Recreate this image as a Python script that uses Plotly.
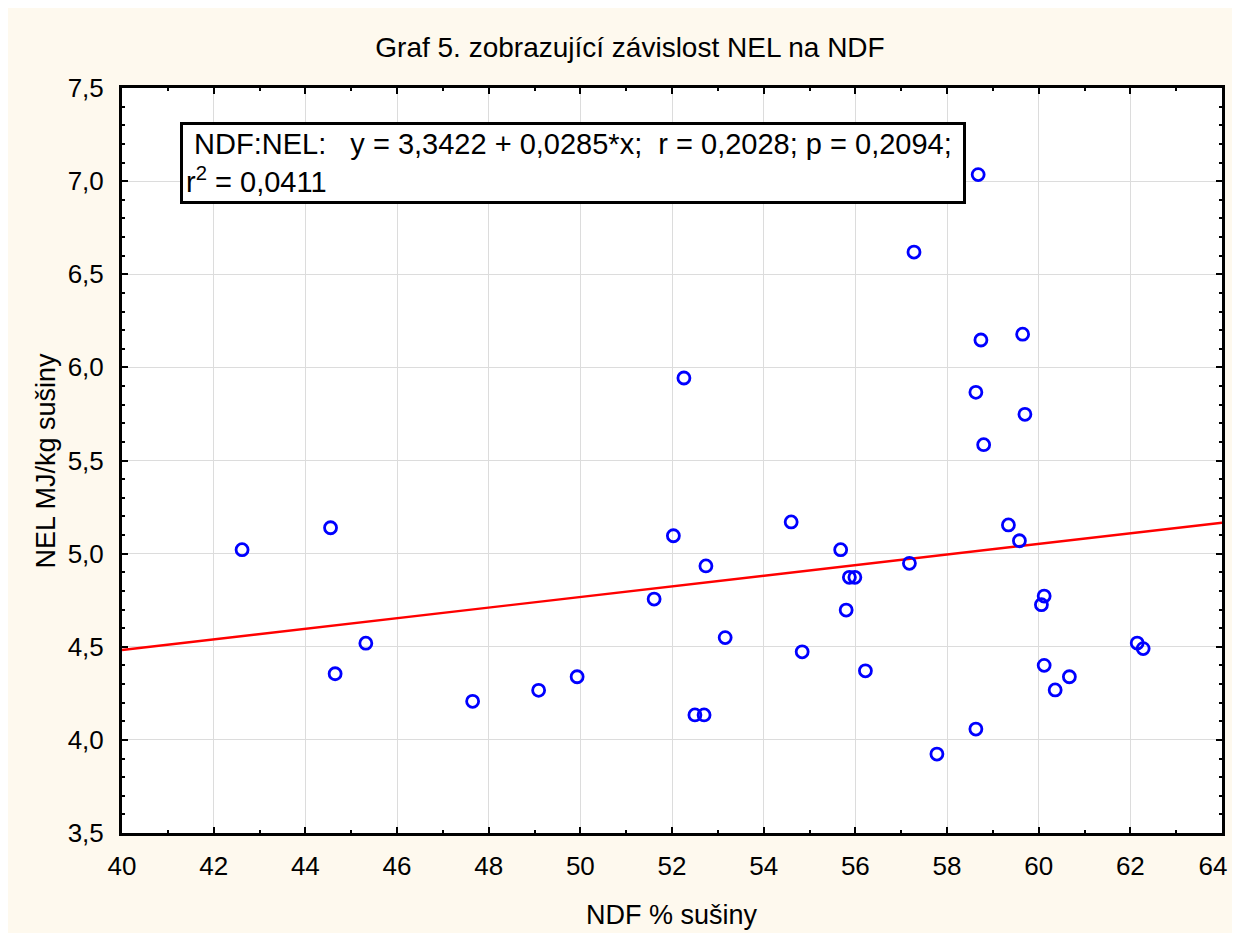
import plotly.graph_objects as go

# Data
ndf = [42.62, 44.55, 44.65, 45.32, 47.65, 49.09, 49.93, 51.61, 52.03, 52.26,
       52.50, 52.70, 52.74, 53.16, 54.60, 54.84, 55.68, 55.80, 55.87, 55.99,
       56.22, 57.18, 57.28, 57.78, 58.63, 58.63, 58.68, 58.74, 58.80, 59.34,
       59.58, 59.65, 59.70, 60.06, 60.12, 60.12, 60.36, 60.67, 62.15, 62.28]
nel = [5.021, 5.139, 4.355, 4.519, 4.207, 4.266, 4.339, 4.756, 5.096, 5.943,
       4.134, 4.134, 4.934, 4.549, 5.170, 4.473, 5.021, 4.697, 4.873, 4.873,
       4.371, 4.948, 6.619, 3.924, 5.866, 4.058, 7.035, 6.147, 5.585, 5.154,
       5.069, 6.178, 5.748, 4.726, 4.772, 4.400, 4.268, 4.339, 4.520, 4.490]

intercept = 3.3422
slope = 0.0285
x_range = [40, 64]
y_range = [3.5, 7.5]
x_ticks = list(range(40, 65, 2))
x_tick_labels = [str(v) for v in x_ticks]
x_tick_labels[-1] = x_tick_labels[-1] + "\u2002\u2009"  # keep last label inside the page
y_ticks = [3.5, 4.0, 4.5, 5.0, 5.5, 6.0, 6.5, 7.0, 7.5]

title_text = "Graf 5. zobrazující závislost NEL na NDF"
x_title = "NDF % sušiny"
y_title = "NEL MJ/kg sušiny"
stats_text = (" NDF:NEL:   y = 3,3422 + 0,0285*x;  r = 0,2028; p = 0,2094;\u00a0<br>"
              "r<sup>2</sup> = 0,0411")

FONT = "Liberation Sans, Arial, sans-serif"
CREAM = "#FEF9EE"

fig = go.Figure()
fig.add_trace(go.Scatter(
    x=x_range, y=[intercept + slope * v for v in x_range],
    mode="lines", line=dict(color="#FF0000", width=2.4),
    showlegend=False, hoverinfo="skip"))
fig.add_trace(go.Scatter(
    x=ndf, y=nel, mode="markers",
    marker=dict(symbol="circle-open", size=12, color="#0000FF",
                line=dict(width=2.8, color="#0000FF")),
    showlegend=False))

W, H = 1232, 925
L, R, T, B = 114, 18, 80, 100

axis_common = dict(
    showline=True, linecolor="black", linewidth=3, mirror="allticks",
    ticks="inside", ticklen=6, tickwidth=2, tickcolor="black",
    showgrid=True, gridcolor="#DCDCDC", gridwidth=1.3, zeroline=False,
    tickfont=dict(family=FONT, size=26, color="black"),
    ticklabeloverflow="allow", automargin=False,
)

fig.update_xaxes(range=x_range, tickvals=x_ticks, ticktext=x_tick_labels,
                 ticklabelstandoff=8, **axis_common,
                 minor=dict(ticks="inside", ticklen=3, tickwidth=2, dtick=1,
                            tickcolor="black", showgrid=False))
fig.update_yaxes(range=y_range, tickvals=y_ticks, tickformat=".1f", ticklabelstandoff=10,
                 **axis_common,
                 minor=dict(ticks="inside", ticklen=3, tickwidth=2, dtick=0.1,
                            tickcolor="black", showgrid=False))

pw = W - L - R
ph = H - T - B

fig.add_annotation(
    xref="paper", yref="paper", x=(172 - L) / pw, y=(H - B - 114) / ph,
    xanchor="left", yanchor="top", align="left",
    text=stats_text, showarrow=False,
    font=dict(family=FONT, size=29, color="black"),
    bgcolor="white", bordercolor="black", borderwidth=3, borderpad=3)

fig.add_annotation(
    xref="paper", yref="paper", x=0.5, y=0, yshift=-82,
    xanchor="center", yanchor="middle", text=x_title, showarrow=False,
    font=dict(family=FONT, size=27, color="black"))
fig.add_annotation(
    xref="paper", yref="paper", x=0, y=0.5, xshift=-77, textangle=-90,
    xanchor="center", yanchor="middle", text=y_title, showarrow=False,
    font=dict(family=FONT, size=27, color="black"))

fig.update_layout(
    width=W, height=H,
    margin=dict(l=L, r=R, t=T, b=B, autoexpand=False),
    paper_bgcolor=CREAM, plot_bgcolor="white",
    separators=", ",
    title=dict(text=title_text, x=622 / W, xanchor="center", y=1 - 39 / H, yanchor="middle",
               font=dict(family=FONT, size=28, color="black")),
)

fig.write_html("out.html")
